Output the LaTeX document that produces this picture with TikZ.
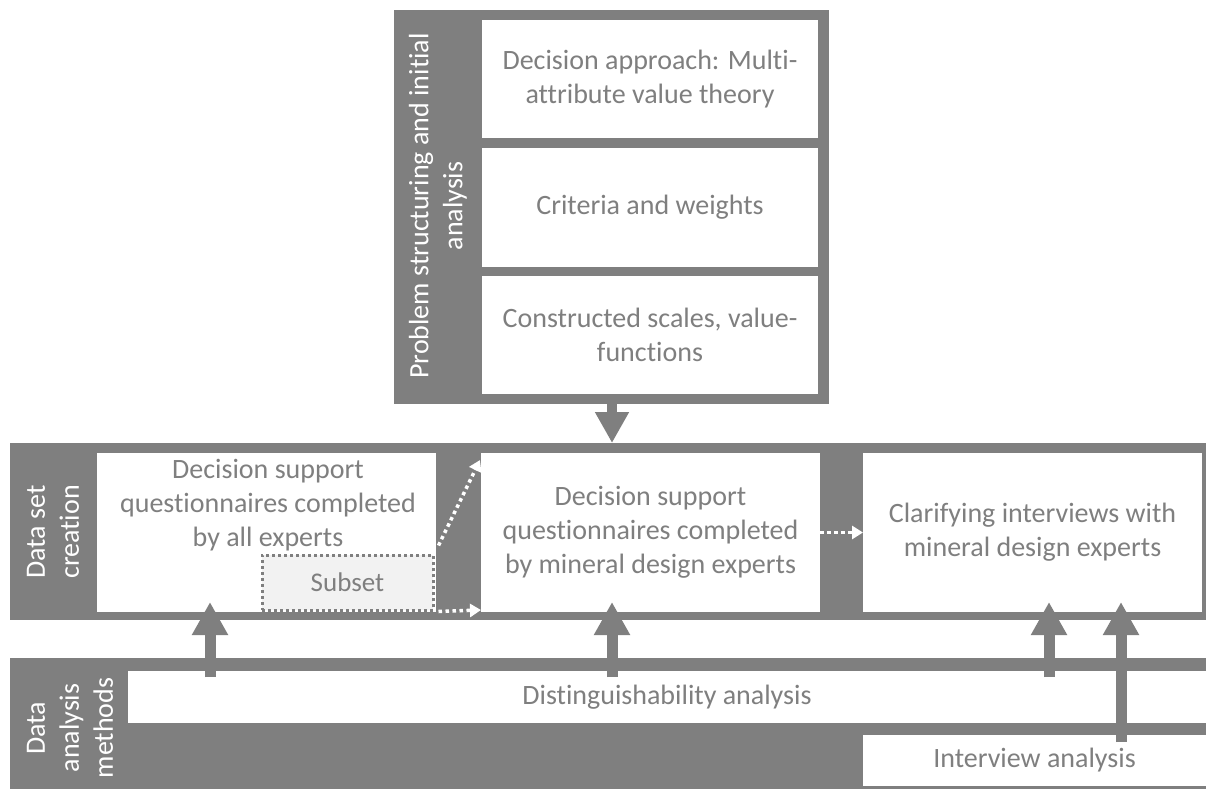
\documentclass[tikz,border=0pt]{standalone}
\usepackage{fontspec}
\setmainfont[Ligatures=NoCommon]{Carlito}
\usetikzlibrary{arrows.meta}
\definecolor{panelgray}{RGB}{127,127,127}
\definecolor{subsetfill}{RGB}{242,242,242}
\begin{document}
\begin{tikzpicture}[x=1pt,y=-1pt,
  panel/.style={fill=panelgray, inner sep=0pt, outer sep=0pt},
  card/.style={fill=white, inner sep=0pt, outer sep=0pt, text=panelgray,
    align=center, font=\fontsize{28}{34}\selectfont},
  plaintext/.style={inner sep=0pt, text=panelgray, align=center,
    font=\fontsize{28}{34}\selectfont},
  sidelabel/.style={inner sep=0pt, text=white, align=center, rotate=90,
    font=\fontsize{28}{34}\selectfont},
  bigup/.style={draw=panelgray, line width=11pt,
    -{Triangle[width=34pt,length=33pt]}},
  bigdown/.style={draw=panelgray, line width=10pt,
    -{Triangle[width=32pt,length=31pt]}},
  dotarrow/.style={draw=white, line width=3.5pt, dash pattern=on 3.5pt off 3.5pt,
    -{Triangle[width=13pt,length=11pt]}},
  subsetbox/.style={fill=subsetfill, draw=panelgray, line width=3pt,
    dash pattern=on 3pt off 3pt, inner sep=0pt, text=panelgray,
    font=\fontsize{27}{33}\selectfont}
]
\useasboundingbox (0,0) rectangle (1206,789);

% --- problem structuring panel ---
\node[panel, minimum width=435pt, minimum height=394pt] (prob) at (611.5,207) {};
\node[sidelabel] (problabel) at (438,206) {Problem structuring and initial\\analysis};
\node[card, minimum width=336pt, minimum height=118pt] (approach) at (650,79)
  {Decision approach: Multi-\\attribute value theory};
\node[card, minimum width=336pt, minimum height=119pt] (criteria) at (650,207.5)
  {Criteria and weights};
\node[card, minimum width=336pt, minimum height=118pt] (scales) at (650,335)
  {Constructed scales, value-\\functions};

% --- data set creation panel ---
\node[panel, minimum width=1196pt, minimum height=177pt] (mid) at (608,531.5) {};
\node[sidelabel] (midlabel) at (53,532) {Data set\\creation};
\node[card, minimum width=339pt, minimum height=159pt] (allq) at (266.5,532.5) {};
\node[plaintext] (allqtext) at (268,505) {Decision support\\questionnaires completed\\by all experts};
\node[card, minimum width=339pt, minimum height=159pt] (minq) at (650.5,532.5)
  {Decision support\\questionnaires completed\\by mineral design experts};
\node[card, minimum width=339pt, minimum height=159pt] (interviews) at (1032.5,532.5)
  {Clarifying interviews with\\mineral design experts};
\node[subsetbox, minimum width=171pt, minimum height=55pt] (subset) at (347.5,582.5) {Subset};

% --- data analysis methods panel ---
\node[panel, minimum width=1196pt, minimum height=131pt] (low) at (608,723.5) {};
\node[sidelabel] (lowlabel) at (70,728) {Data\\analysis\\methods};
\node[card, minimum width=1078pt, minimum height=52pt] (dist) at (667,697)
  {Distinguishability analysis};
\node[card, minimum width=343pt, minimum height=51pt] (iva) at (1034.5,760.5)
  {Interview analysis};

% --- flow between stages ---
\draw[bigdown] (prob.south -| 612,0) -- (mid.north -| 612,0);

\coordinate (u1) at (210,0);
\coordinate (u2) at (612,0);
\coordinate (u3) at (1049,0);
\coordinate (u4) at (1121,0);
\draw[bigup] ([yshift=-6pt]dist.north -| u1) -- ([yshift=10pt]allq.south -| u1);
\draw[bigup] ([yshift=-6pt]dist.north -| u2) -- ([yshift=10pt]minq.south -| u2);
\draw[bigup] ([yshift=-6pt]dist.north -| u3) -- ([yshift=10pt]interviews.south -| u3);
\draw[bigup] ([yshift=-7pt]iva.north -| u4) -- ([yshift=10pt]interviews.south -| u4);

% --- subset hand-over and follow-up ---
\draw[dotarrow] ([shift={(4,0)}]subset.south east) -- ([shift={(0,-2)}]minq.south west);
\draw[dotarrow] ([shift={(4,-8)}]subset.north east) -- ([shift={(-1,7)}]minq.north west);
\draw[dotarrow] (minq.east) -- (interviews.west);
\end{tikzpicture}
\end{document}
